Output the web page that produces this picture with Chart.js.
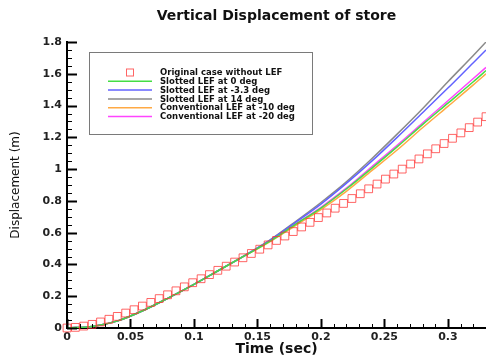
<!DOCTYPE html>
<html>
<head>
<meta charset="utf-8">
<script src="https://cdn.jsdelivr.net/npm/chart.js@4.4.1/dist/chart.umd.min.js"></script>
<style>
  html, body { margin: 0; padding: 0; background: #fff; }
  canvas { display: block; }
</style>
</head>
<body>
<canvas id="chart" width="486" height="359"></canvas>
<script>
// ================================
// DATA
// ================================
const chartTitle = "Vertical Displacement of store";

// red squares, original case
const origTimes = [0, 0.0066, 0.0132, 0.0198, 0.0264, 0.033, 0.0396, 0.0462, 0.0528, 0.0594,
  0.066, 0.0726, 0.0792, 0.0858, 0.0924, 0.099, 0.1056, 0.1122, 0.1188, 0.1254,
  0.132, 0.1386, 0.1452, 0.1518, 0.1584, 0.165, 0.1716, 0.1782, 0.1848, 0.1914,
  0.198, 0.2046, 0.2112, 0.2178, 0.2244, 0.231, 0.2376, 0.2442, 0.2508, 0.2574,
  0.264, 0.2706, 0.2772, 0.2838, 0.2904, 0.297, 0.3036, 0.3102, 0.3168, 0.3234, 0.33];
const origDisp = [0, 0.004, 0.012, 0.023, 0.038, 0.055, 0.073, 0.094, 0.115, 0.138,
  0.161, 0.185, 0.209, 0.234, 0.259, 0.285, 0.310, 0.336, 0.363, 0.389,
  0.415, 0.442, 0.469, 0.496, 0.523, 0.551, 0.579, 0.607, 0.636, 0.665,
  0.695, 0.724, 0.754, 0.784, 0.815, 0.845, 0.876, 0.906, 0.937, 0.969,
  1.000, 1.032, 1.064, 1.096, 1.128, 1.161, 1.194, 1.228, 1.261, 1.296, 1.330];

// LEF cases (solid lines)
const lineTimes = [0, 0.02, 0.04, 0.06, 0.08, 0.1, 0.12, 0.14, 0.16, 0.18, 0.2, 0.22, 0.24, 0.26, 0.28, 0.3, 0.32, 0.33];
const slotted0   = [0, 0.01, 0.045, 0.11, 0.19, 0.275, 0.365, 0.455, 0.547, 0.652, 0.755, 0.875, 1.005, 1.14, 1.28, 1.415, 1.55, 1.62];
const slotted33  = [0, 0.01, 0.045, 0.11, 0.19, 0.275, 0.365, 0.456, 0.553, 0.665, 0.78, 0.91, 1.05, 1.20, 1.355, 1.51, 1.67, 1.75];
const slotted14  = [0, 0.01, 0.045, 0.11, 0.19, 0.275, 0.365, 0.457, 0.555, 0.67, 0.79, 0.92, 1.065, 1.22, 1.38, 1.55, 1.715, 1.80];
const conv10     = [0, 0.01, 0.045, 0.11, 0.19, 0.275, 0.365, 0.454, 0.544, 0.645, 0.745, 0.86, 0.99, 1.12, 1.26, 1.395, 1.53, 1.60];
const conv20     = [0, 0.01, 0.045, 0.11, 0.19, 0.275, 0.365, 0.455, 0.548, 0.655, 0.76, 0.88, 1.015, 1.15, 1.29, 1.43, 1.57, 1.64];

const seriesLabels = [
  "Original case without LEF",
  "Slotted LEF at 0 deg",
  "Slotted LEF at -3.3 deg",
  "Slotted LEF at 14 deg",
  "Conventional LEF at -10 deg",
  "Conventional LEF at -20 deg",
];
const seriesColors = ["rgba(255,50,50,0.75)", "#44dd44", "#6262ff", "#8a8a8a", "#ffaa44", "#ff44ff"];

const xMax = 0.33;
const yMax = 1.8;

const toPoints = (xs, ys) => xs.map((x, i) => ({ x: x, y: ys[i] }));
const isMult = (v, step) => Math.abs(v / step - Math.round(v / step)) < 1e-6;

// ================================
// PLUGINS
// ================================
const FONT = "'DejaVu Sans', sans-serif";

// inward ticks on both axes
const innerTicks = {
  id: "innerTicks",
  afterDatasetsDraw(chart) {
    const { ctx, chartArea, scales } = chart;
    ctx.save();
    ctx.strokeStyle = "#000";
    scales.x.ticks.forEach((t) => {
      const px = Math.round(scales.x.getPixelForValue(t.value)) + 0.5;
      const major = isMult(t.value, 0.05);
      ctx.lineWidth = major ? 2 : 1;
      ctx.beginPath();
      ctx.moveTo(px, chartArea.bottom);
      ctx.lineTo(px, chartArea.bottom - (major ? 9 : 4));
      ctx.stroke();
    });
    scales.y.ticks.forEach((t) => {
      const py = Math.round(scales.y.getPixelForValue(t.value)) + 0.5;
      const major = isMult(t.value, 0.2);
      ctx.lineWidth = major ? 2 : 1;
      ctx.beginPath();
      ctx.moveTo(chartArea.left, py);
      ctx.lineTo(chartArea.left + (major ? 10 : 5), py);
      ctx.stroke();
    });
    ctx.restore();
  },
};

// title + boxed legend
const decorations = {
  id: "decorations",
  afterDraw(chart) {
    const { ctx, chartArea } = chart;
    ctx.save();
    ctx.fillStyle = "#111";
    ctx.font = "bold 14px " + FONT;
    ctx.textAlign = "center";
    ctx.textBaseline = "middle";
    ctx.fillText(chartTitle, (chartArea.left + chartArea.right) / 2, 16);

    // legend box
    ctx.fillStyle = "#fff";
    ctx.fillRect(89, 52, 223, 82);
    ctx.strokeStyle = "#7a7a7a";
    ctx.lineWidth = 1;
    ctx.strokeRect(89.5, 52.5, 223, 82);

    ctx.font = "bold 8.5px " + FONT;
    ctx.textAlign = "left";
    chart.data.datasets.forEach((ds, i) => {
      const y = 72.5 + i * 8.8;
      ctx.strokeStyle = ds.borderColor;
      if (i === 0) {
        ctx.lineWidth = 1;
        ctx.strokeRect(126.5, y - 3.5, 7, 7);
      } else {
        ctx.lineWidth = 1.5;
        ctx.beginPath();
        ctx.moveTo(108, y);
        ctx.lineTo(152, y);
        ctx.stroke();
      }
      ctx.fillStyle = "#111";
      ctx.fillText(ds.label, 160, y + 0.5);
    });
    ctx.restore();
  },
};

// ================================
// CHART
// ================================
const lineSets = [slotted0, slotted33, slotted14, conv10, conv20];

const datasets = [
  {
    label: seriesLabels[0],
    data: toPoints(origTimes, origDisp),
    showLine: false,
    pointStyle: "rect",
    pointRadius: 5.5,
    pointBorderWidth: 1,
    borderColor: seriesColors[0],
    backgroundColor: "rgba(0,0,0,0)",
    clip: false,
  },
].concat(
  lineSets.map((vals, i) => ({
    label: seriesLabels[i + 1],
    data: toPoints(lineTimes, vals),
    borderColor: seriesColors[i + 1],
    borderWidth: 1.5,
    pointRadius: 0,
    cubicInterpolationMode: "monotone",
    fill: false,
  }))
);

new Chart(document.getElementById("chart"), {
  type: "line",
  data: { datasets: datasets },
  options: {
    responsive: false,
    animation: false,
    layout: { autoPadding: false, padding: { top: 42, right: 0, left: 0, bottom: 0 } },
    plugins: { legend: { display: false }, tooltip: { enabled: false } },
    scales: {
      x: {
        type: "linear",
        min: 0,
        max: xMax,
        afterFit: (s) => {
          s.height = 31;
          s.paddingLeft = 0;
          s.paddingRight = 0;
        },
        grid: { display: true, drawOnChartArea: false, drawTicks: false },
        border: { color: "#000", width: 2 },
        ticks: {
          stepSize: 0.01,
          autoSkip: false,
          maxRotation: 0,
          padding: 3,
          color: "#222",
          font: { family: FONT, size: 11, weight: "bold" },
          callback: (v) => (isMult(v, 0.05) ? String(Math.round(v * 100) / 100) : ""),
        },
        title: {
          display: true,
          text: "Time (sec)",
          color: "#111",
          font: { family: FONT, size: 14, weight: "bold" },
          padding: { top: 0, bottom: 1 },
        },
      },
      y: {
        min: 0,
        max: yMax,
        afterFit: (s) => {
          s.width = 67;
          s.paddingTop = 0;
          s.paddingBottom = 0;
        },
        grid: { display: true, drawOnChartArea: false, drawTicks: false },
        border: { color: "#000", width: 2 },
        ticks: {
          stepSize: 0.05,
          autoSkip: false,
          padding: 5,
          color: "#222",
          font: { family: FONT, size: 11, weight: "bold" },
          callback: (v) => (isMult(v, 0.2) ? String(Math.round(v * 10) / 10) : ""),
        },
        title: {
          display: true,
          text: "Displacement (m)",
          color: "#111",
          font: { family: FONT, size: 12 },
          padding: { top: 9, bottom: 0 },
        },
      },
    },
  },
  plugins: [innerTicks, decorations],
});
</script>
</body>
</html>
